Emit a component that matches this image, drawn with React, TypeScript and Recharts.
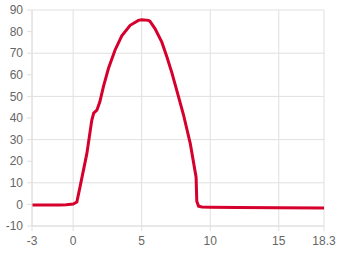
import { CartesianGrid, Line, LineChart, XAxis, YAxis } from "recharts";

const xs = [
  -3, -2, -1, -0.5, 0, 0.27, 0.5, 1.0, 1.36, 1.5, 1.73, 1.95, 2.21, 2.58, 3.06, 3.55,
  4.16, 4.76, 5.0, 5.49, 5.6, 5.98, 6.47, 6.83, 7.2, 7.56, 8.05, 8.55, 8.97, 9.02,
  9.15, 9.4, 10, 12, 15, 18.3,
];
const ys = [
  -0.3, -0.3, -0.3, -0.2, 0.2, 1.1, 8, 23.5, 38.9, 42.3, 43.6, 47.5, 54.5, 63, 71.5,
  78, 82.9, 85.2, 85.5, 85.2, 84.8, 81.3, 75.1, 68.5, 61, 52.8, 41.5, 28, 12.6,
  1.5, -0.8, -1.2, -1.3, -1.4, -1.5, -1.7,
];
const xTicks = [-3, 0, 5, 10, 15, 18.3];
const yTicks = [-10, 0, 10, 20, 30, 40, 50, 60, 70, 80, 90];

const data = xs.map((x, i) => ({ x, y: ys[i] }));

const grid = "#e0e0e0";
const tick = { fill: "#666", fontSize: 12, fontFamily: "Liberation Sans, Arial, sans-serif" };

export default function App() {
  return (
    <div style={{ position: "fixed", left: 0, top: 0, background: "#fff" }}>
      <LineChart width={340} height={255} data={data} margin={{ top: 10, right: 16, bottom: 0, left: 0 }}>
        <CartesianGrid stroke={grid} />
        <XAxis
          dataKey="x"
          type="number"
          domain={[-3, 18.3]}
          ticks={xTicks}
          height={29}
          tickSize={5}
          tickMargin={5}
          axisLine={{ stroke: grid }}
          tickLine={{ stroke: grid }}
          tick={tick}
        />
        <YAxis
          domain={[-10, 90]}
          ticks={yTicks}
          width={32}
          tickSize={5}
          tickMargin={4}
          axisLine={{ stroke: grid }}
          tickLine={{ stroke: grid }}
          tick={tick}
        />
        <Line
          dataKey="y"
          type="linear"
          stroke="#d6002c"
          strokeWidth={3}
          dot={false}
          isAnimationActive={false}
        />
      </LineChart>
    </div>
  );
}
